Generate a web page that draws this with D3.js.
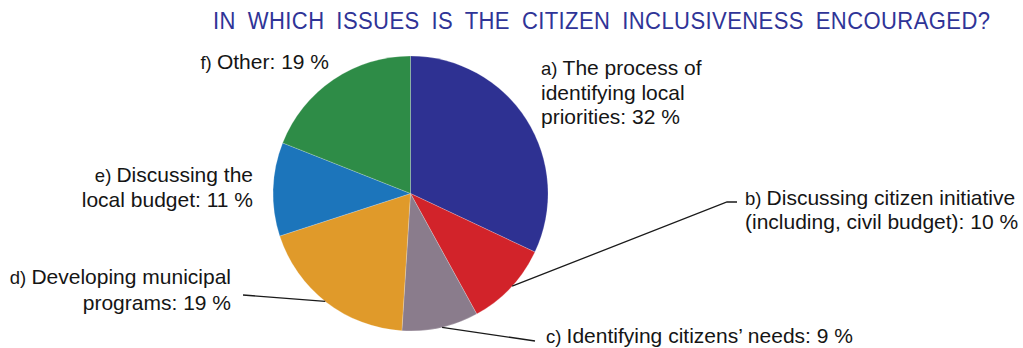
<!DOCTYPE html>
<html>
<head>
<meta charset="utf-8">
<script src="https://cdn.jsdelivr.net/npm/d3@7"></script>
<style>
  html, body { margin: 0; padding: 0; background: #ffffff; }
  svg { display: block; }
</style>
</head>
<body>
<svg id="chart" width="1023" height="348"></svg>
<script>
// Survey answers, clockwise from 12 o'clock
const prefixes = ["a)", "b)", "c)", "d)", "e)", "f)"];
const labelLines = [
  ["The process of", "identifying local", "priorities"],
  ["Discussing citizen initiative", "(including, civil budget)"],
  ["Identifying citizens\u2019 needs"],
  ["Developing municipal", "programs"],
  ["Discussing the", "local budget"],
  ["Other"]
];
const values = [32, 10, 9, 19, 11, 19];
const colors = ["#2e3192", "#d2232a", "#8a7c8c", "#e09a2a", "#1c75bb", "#2e8c47"];
const title = "IN WHICH ISSUES IS THE CITIZEN INCLUSIVENESS ENCOURAGED?";

const svg = d3.select("#chart");
const cx = 410.5, cy = 193.5, R = 137.5;

// Title in a slightly condensed sans face with wide word gaps
const narrow = 0.9;
svg.append("g")
  .attr("transform", `translate(601.5,29) scale(${narrow},1)`)
  .append("text")
  .attr("x", 0)
  .attr("y", 0)
  .attr("text-anchor", "middle")
  .attr("font-family", "'Liberation Sans', Arial, sans-serif")
  .attr("font-size", 24.5)
  .attr("word-spacing", 6)
  .attr("fill", "#2f3497")
  .attr("textLength", 777 / narrow)
  .attr("lengthAdjust", "spacing")
  .text(title);

// Pie
const pie = d3.pie().sort(null).value(d => d)(values);
const arc = d3.arc().innerRadius(0).outerRadius(R);

// Leader lines, attached to the slice rim
const leaders = {
  1: { angle: 2.31, elbow: [727, 202], end: [737, 202] },
  2: { angle: 2.91, elbow: [535, 341], end: [535, 341] },
  3: { angle: 3.81, elbow: [243, 295], end: [243, 295] }
};
const g = svg.append("g").attr("transform", `translate(${cx},${cy})`);

g.selectAll("path.slice")
  .data(pie)
  .join("path")
  .attr("class", "slice")
  .attr("d", arc)
  .attr("fill", (d, i) => colors[i])
  .attr("stroke", "#ffffff")
  .attr("stroke-opacity", 0.3)
  .attr("stroke-width", 0.7);

Object.entries(leaders).forEach(([k, L]) => {
  const a = L.angle;
  const p0 = [cx + R * Math.sin(a), cy - R * Math.cos(a)];
  svg.append("path")
    .attr("d", d3.line()([p0, L.elbow, L.end]))
    .attr("fill", "none")
    .attr("stroke", "#1a1a1a")
    .attr("stroke-width", 1.3);
});

// Labels
const labelPlace = [
  { x: 541, y: 75,  anchor: "start", lh: 24.5 },
  { x: 745, y: 205, anchor: "start", lh: 23.5 },
  { x: 546, y: 343, anchor: "start", lh: 24 },
  { x: 231, y: 284, anchor: "end",   lh: 25.5 },
  { x: 253, y: 182, anchor: "end",   lh: 25 },
  { x: 329, y: 69,  anchor: "end",   lh: 24 }
];

labelLines.forEach((lines, i) => {
  const P = labelPlace[i];
  const t = svg.append("text")
    .attr("font-family", "'Liberation Sans', Arial, sans-serif")
    .attr("font-size", 21)
    .attr("fill", "#151515")
    .attr("text-anchor", P.anchor);
  lines.forEach((ln, j) => {
    const last = j === lines.length - 1;
    const content = last ? `${ln}: ${values[i]} %` : ln;
    const line = t.append("tspan").attr("x", P.x).attr("y", P.y + j * P.lh);
    if (j === 0) {
      line.append("tspan").attr("font-size", 18.5).text(prefixes[i] + " ");
      line.append("tspan").text(content);
    } else {
      line.text(content);
    }
  });
});
</script>
</body>
</html>
